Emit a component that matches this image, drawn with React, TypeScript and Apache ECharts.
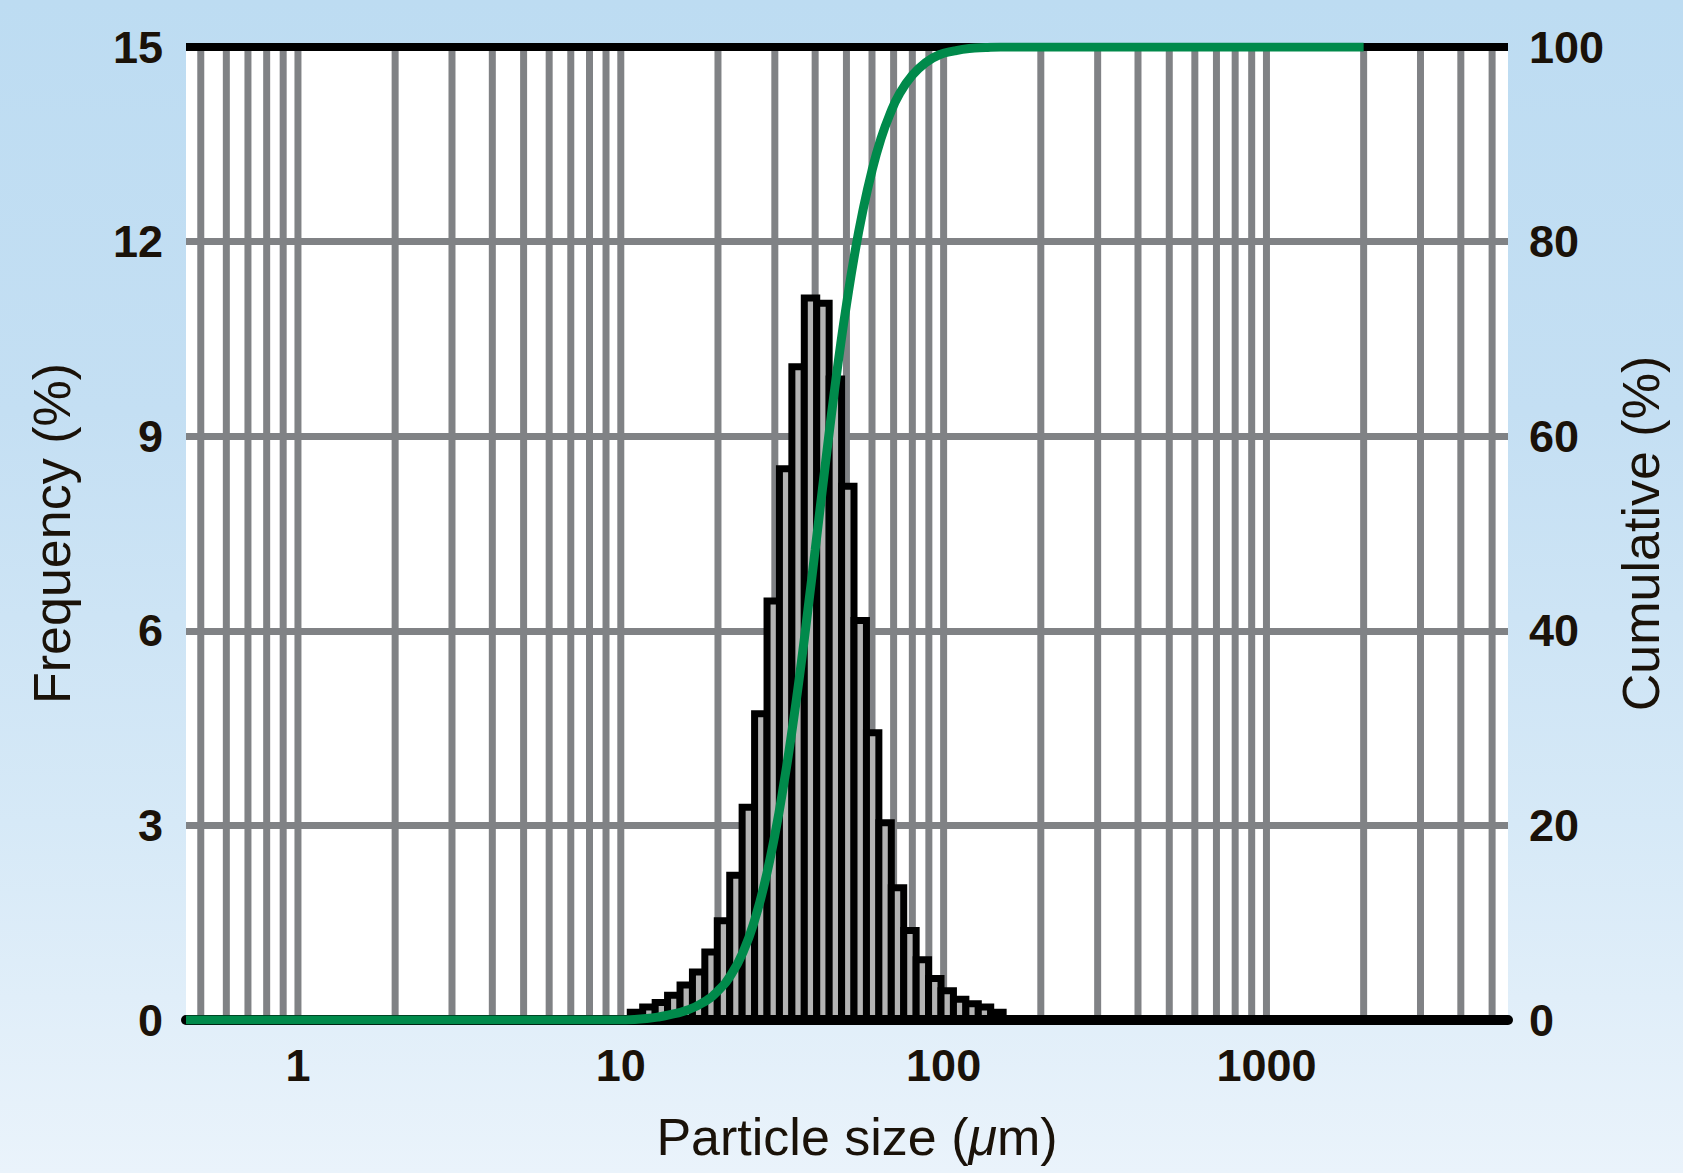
import React, { useEffect, useRef } from "react";
import * as echarts from "echarts";

// Histogram bins (µm, log-spaced edges) and frequency (%) per bin
const binEdges = [
  10.7, 11.69, 12.78, 13.96, 15.26, 16.67, 18.21, 19.9, 21.75, 23.76, 25.97,
  28.38, 31.0, 33.88, 37.02, 40.45, 44.2, 48.3, 52.77, 57.67, 63.01, 68.85,
  75.23, 82.2, 89.82, 98.15, 107.25, 117.19, 128.05, 139.92, 152.89,
];
const frequency = [
  0.12, 0.2, 0.27, 0.38, 0.54, 0.74, 1.05, 1.53, 2.23, 3.28, 4.72, 6.46, 8.5,
  10.07, 11.13, 11.05, 9.88, 8.23, 6.16, 4.43, 3.04, 2.04, 1.38, 0.93, 0.64,
  0.45, 0.32, 0.25, 0.2, 0.12,
];

// Cumulative curve (µm, %)
const cumSize = [
  0.45, 10, 11, 12, 13, 14, 16, 18, 20, 22, 24, 26, 28, 30, 32, 34, 36, 38,
  40, 42, 44, 46, 48, 50, 53, 56, 60, 64, 68, 73, 80, 88, 97, 108, 120, 135,
  150, 165, 2000,
];
const cumPercent = [
  0, 0, 0.05, 0.15, 0.3, 0.5, 1.0, 1.8, 3.0, 4.7, 7.1, 10.3, 14.3, 19.0, 24.3,
  30.0, 36.0, 42.2, 48.3, 54.2, 59.8, 64.9, 69.5, 73.5, 78.7, 82.9, 87.3, 90.6,
  93.0, 95.2, 97.1, 98.4, 99.2, 99.6, 99.85, 99.95, 100, 100, 100,
];

// Vertical (log) grid lines and labelled ticks
const gridSizes = [
  0.5, 0.6, 0.7, 0.8, 0.9, 1, 2, 3, 4, 5, 6, 7, 8, 9, 10, 20, 30, 40, 50, 60,
  70, 80, 90, 100, 200, 300, 400, 500, 600, 700, 800, 900, 1000, 2000, 3000,
  4000, 5000,
];
const xTickLabels = [1, 10, 100, 1000];

const X_MIN = 0.45;
const X_MAX = 5600;
const FREQ_MAX = 15;
const FREQ_STEP = 3;
const CUM_MAX = 100;
const CUM_STEP = 20;

const FONT = "'Liberation Sans', Arial, Helvetica, sans-serif";
const TEXT = "#1a1209";
const GRID_GRAY = "#808285";
const GREEN = "#008a4b";

export default function App() {
  const ref = useRef<HTMLDivElement>(null);

  useEffect(() => {
    if (!ref.current) return;
    const chart = echarts.init(ref.current, undefined, { renderer: "svg" });

    const barData = frequency.map((f, i) => [binEdges[i], binEdges[i + 1], f]);
    const cumData = cumSize.map((s, i) => [s, cumPercent[i]]);
    const gridData = gridSizes.map((s) => [s]);

    const option: any = {
      animation: false,
      backgroundColor: "transparent",
      grid: {
        left: 186,
        right: 175,
        top: 47,
        bottom: 153,
        show: true,
        backgroundColor: "#ffffff",
        borderWidth: 0,
      },
      xAxis: [
        {
          type: "log",
          logBase: 10,
          min: X_MIN,
          max: X_MAX,
          offset: 5,
          z: 4,
          axisLine: { show: true, lineStyle: { color: "#000", width: 10 } },
          axisTick: { show: false },
          splitLine: { show: false },
          axisLabel: {
            margin: 18,
            fontSize: 45,
            fontWeight: "bold",
            fontFamily: FONT,
            color: TEXT,
            formatter: (v: number) => {
              const hit = xTickLabels.find((t) => Math.abs(v - t) / t < 1e-6);
              return hit !== undefined ? String(hit) : "";
            },
          },
          name: "{n|Particle size (}{i|μ}{n|m)}",
          nameLocation: "middle",
          nameGap: 86,
          nameTextStyle: {
            padding: [0, 0, 0, 20],
            rich: {
              n: { fontSize: 52, fontFamily: FONT, color: TEXT },
              i: { fontSize: 52, fontFamily: FONT, color: TEXT, fontStyle: "italic" },
            },
          },
        },
      ],
      yAxis: [
        {
          type: "value",
          min: 0,
          max: FREQ_MAX,
          interval: FREQ_STEP,
          axisLine: { show: false },
          axisTick: { show: false },
          splitLine: { show: true, lineStyle: { color: GRID_GRAY, width: 7 } },
          axisLabel: {
            margin: 23,
            fontSize: 45,
            fontWeight: "bold",
            fontFamily: FONT,
            color: TEXT,
          },
          name: "Frequency (%)",
          nameLocation: "middle",
          nameGap: 108,
          nameTextStyle: { fontSize: 52, fontFamily: FONT, color: TEXT },
        },
        {
          type: "value",
          position: "right",
          min: 0,
          max: CUM_MAX,
          interval: CUM_STEP,
          axisLine: { show: false },
          axisTick: { show: false },
          splitLine: { show: false },
          axisLabel: {
            margin: 21,
            fontSize: 45,
            fontWeight: "bold",
            fontFamily: FONT,
            color: TEXT,
          },
          name: "Cumulative (%)",
          nameLocation: "middle",
          nameGap: 106,
          nameTextStyle: { fontSize: 52, fontFamily: FONT, color: TEXT },
        },
      ],
      series: [
        {
          type: "custom",
          name: "vgrid",
          z: 1,
          silent: true,
          data: gridData,
          encode: { x: 0 },
          renderItem: (params: any, api: any) => {
            const v = api.value(0);
            const p0 = api.coord([v, 0]);
            const p1 = api.coord([v, FREQ_MAX]);
            return {
              type: "line",
              shape: { x1: p0[0], y1: p0[1], x2: p1[0], y2: p1[1] },
              style: { stroke: GRID_GRAY, lineWidth: 7 },
            };
          },
        },
        {
          type: "custom",
          name: "topBorder",
          z: 2,
          silent: true,
          data: [[FREQ_MAX]],
          encode: { y: 0 },
          renderItem: (params: any, api: any) => {
            const cs = params.coordSys;
            const p = api.coord([X_MIN, api.value(0)]);
            return {
              type: "line",
              shape: { x1: cs.x, y1: p[1], x2: cs.x + cs.width, y2: p[1] },
              style: { stroke: "#000", lineWidth: 8 },
            };
          },
        },
        {
          type: "custom",
          name: "Frequency",
          z: 3,
          data: barData,
          encode: { x: [0, 1], y: 2 },
          renderItem: (params: any, api: any) => {
            const pTop = api.coord([api.value(0), api.value(2)]);
            const pBot = api.coord([api.value(1), 0]);
            return {
              type: "rect",
              shape: {
                x: pTop[0],
                y: pTop[1],
                width: pBot[0] - pTop[0],
                height: pBot[1] - pTop[1],
              },
              style: { fill: "#b3b3b3", stroke: "#000", lineWidth: 7 },
            };
          },
        },
        {
          type: "line",
          name: "Cumulative",
          yAxisIndex: 1,
          z: 6,
          data: cumData,
          symbol: "none",
          smooth: 0.5,
          lineStyle: { color: GREEN, width: 9 },
        },
      ],
    };

    chart.setOption(option);
    return () => chart.dispose();
  }, []);

  return (
    <div
      style={{
        position: "fixed",
        left: 0,
        top: 0,
        width: "1683px",
        height: "1173px",
        background:
          "linear-gradient(to bottom, #bddcf2 0%, #c4dff3 35%, #d6e9f7 70%, #eaf3fb 100%)",
      }}
    >
      <div ref={ref} style={{ width: "1683px", height: "1173px" }} />
    </div>
  );
}
